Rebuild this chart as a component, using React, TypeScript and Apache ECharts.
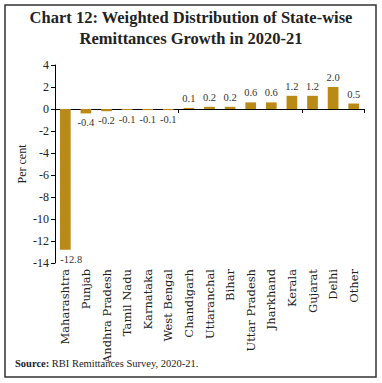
import React, { useEffect, useRef } from "react";
import * as echarts from "echarts";

const categories = [
  "Maharashtra", "Punjab", "Andhra Pradesh", "Tamil Nadu", "Karnataka", "West Bengal",
  "Chandigarh", "Uttaranchal", "Bihar", "Uttar Pradesh", "Jharkhand", "Kerala",
  "Gujarat", "Delhi", "Other",
];
const values = [-12.8, -0.4, -0.2, -0.1, -0.1, -0.1, 0.1, 0.2, 0.2, 0.6, 0.6, 1.2, 1.2, 2.0, 0.5];
const yMin = -14;
const yMax = 4;
const yStep = 2;

const titleLines = ["Chart 12: Weighted Distribution of State-wise", "Remittances Growth in 2020-21"];
const serif = "'Liberation Serif', 'DejaVu Serif', serif";
const wideSerif = "'DejaVu Serif', serif";

export default function App() {
  const ref = useRef<HTMLDivElement>(null);
  useEffect(() => {
    if (!ref.current) return;
    const chart = echarts.init(ref.current, null, { renderer: "svg" });
    const barData = values.map((v, i) =>
      i === 0 ? { value: v, label: { offset: [6, 0] } } : v
    );
    chart.setOption({
      animation: false,
      backgroundColor: "#ffffff",
      grid: { left: 55, right: 18, top: 65, bottom: 120, containLabel: false },
      graphic: [
        {
          type: "rect",
          shape: { x: 5, y: 5, width: 371, height: 372 },
          style: { fill: "none", stroke: "#333", lineWidth: 1.5 },
          silent: true,
        },
        {
          type: "text",
          x: 191, y: 17,
          style: { text: titleLines[0], font: `bold 16.5px ${serif}`, fill: "#222", align: "center", verticalAlign: "middle" },
        },
        {
          type: "text",
          x: 191, y: 38,
          style: { text: titleLines[1], font: `bold 16.5px ${serif}`, fill: "#222", align: "center", verticalAlign: "middle" },
        },
        {
          type: "text",
          x: 15, y: 363,
          style: {
            text: "{b|Source:} RBI Remittances Survey, 2020-21.",
            font: `10.5px ${serif}`,
            fill: "#222",
            verticalAlign: "middle",
            rich: { b: { fontWeight: "bold", fontFamily: serif, fontSize: 10.5, fill: "#222" } },
          },
        },
      ],
      xAxis: [
        {
          type: "category",
          data: categories,
          position: "bottom",
          axisLine: { show: false, onZero: false },
          axisTick: { show: false },
          axisLabel: { rotate: 90, fontFamily: wideSerif, fontSize: 11.5, color: "#222", margin: 6, interval: 0 },
        },
        {
          type: "category",
          data: categories,
          position: "bottom",
          axisLine: { show: true, onZero: true, lineStyle: { color: "#000", width: 1 } },
          axisTick: { show: true, length: 4, lineStyle: { color: "#000" } },
          axisLabel: { show: false },
        },
      ],
      yAxis: {
        type: "value",
        min: yMin,
        max: yMax,
        interval: yStep,
        name: "Per cent",
        nameLocation: "middle",
        nameGap: 27,
        nameMoveOverlap: false,
        nameTextStyle: { fontFamily: serif, fontSize: 12, color: "#222" },
        axisLine: { show: true, lineStyle: { color: "#000" } },
        axisTick: { show: true, length: 4, lineStyle: { color: "#000" } },
        axisLabel: { fontFamily: serif, fontSize: 12, color: "#222", margin: 6 },
        splitLine: { show: false },
      },
      series: [
        {
          type: "bar",
          xAxisIndex: 0,
          data: barData,
          barWidth: "52%",
          itemStyle: { color: "#BA8A16" },
          label: {
            show: true,
            position: "outside",
            fontFamily: serif,
            fontSize: 10.5,
            color: "#333",
            distance: 4,
            formatter: (p: any) => Number(p.value).toFixed(1),
          },
        },
      ],
    });
    return () => chart.dispose();
  }, []);
  return <div ref={ref} style={{ position: "fixed", left: 0, top: 0, width: 382, height: 383 }} />;
}
